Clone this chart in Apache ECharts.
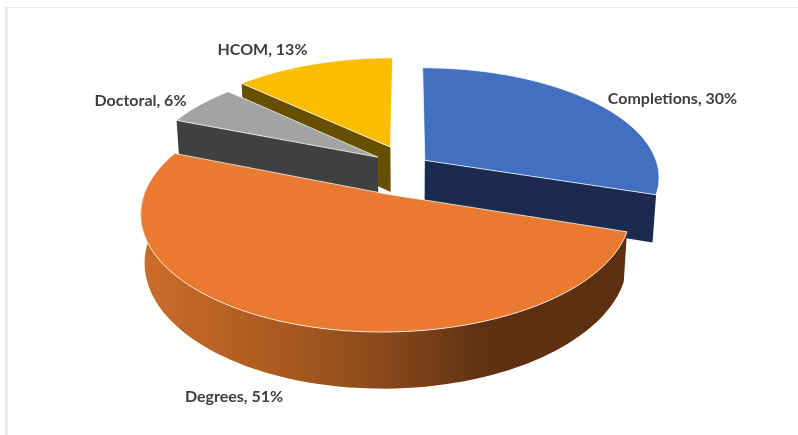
<!DOCTYPE html>
<html>
<head>
<meta charset="utf-8">
<style>html,body{margin:0;padding:0;background:#fff}#c{width:798px;height:435px}</style>
<script src="https://cdn.jsdelivr.net/npm/echarts@6/dist/echarts.min.js"></script>
</head>
<body>
<div id="c"></div>
<script>
var categories = ['Completions', 'Degrees', 'Doctoral', 'HCOM'];
var values = [30, 51, 6, 13];
var explode = [0.09, 0.265, 0.155, 0.195];
var topColors = ['#4270C0', '#E97A2F', '#A3A3A3', '#FBBD02'];
var wallColors = ['#1A2B4F', '#5C3010', '#404040', '#665000'];
var drawOrder = [3, 2, 0, 1];
var labelX = [672.5, 234, 140.5, 262.5];
var labelY = [99, 397, 101, 50];

var view = {ox: 408, oy: 166, rx: 233, ry: 108, k: 0.15, depth: 46, shrink: 0.014};
var total = values.reduce(function (a, b) { return a + b; }, 0);

function project(u, v, low) {
  var w = 1 + view.k * v;
  return [
    view.ox + view.rx * u / (w + (low ? view.shrink : 0)),
    view.oy + (-view.ry * v + (low ? view.depth : 0)) / w
  ];
}
function sliceAngles(i) {
  var before = 0;
  for (var j = 0; j < i; j++) before += values[j];
  return [before / total * Math.PI * 2, (before + values[i]) / total * Math.PI * 2];
}
function offsetOf(i) {
  var a = sliceAngles(i), mid = (a[0] + a[1]) / 2;
  return [Math.sin(mid) * explode[i], Math.cos(mid) * explode[i]];
}
function rimPoint(i, t, low) {
  var o = offsetOf(i);
  return project(Math.sin(t) + o[0], Math.cos(t) + o[1], low);
}
function arc(i, low, frontOnly) {
  var a = sliceAngles(i), pts = [], n = 90;
  for (var s = 0; s <= n; s++) {
    var t = a[0] + (a[1] - a[0]) * s / n;
    if (!frontOnly || Math.cos(t) < 0.1) pts.push(rimPoint(i, t, low));
  }
  return pts;
}
function hub(i, low) {
  var o = offsetOf(i);
  return project(o[0], o[1], low);
}

function renderItem(params, api) {
  var i = params.dataIndex, order = drawOrder.indexOf(i), base = order * 10 + 1;
  var a = sliceAngles(i);
  var children = [];
  if (categories[i] === 'Degrees') {
    children.push({
      type: 'polygon', z2: base,
      shape: {points: arc(i, false, true).concat(arc(i, true, true).reverse())},
      style: {fill: {
        type: 'linear', x: 0, y: 0, x2: 1, y2: 0,
        colorStops: [
          {offset: 0, color: '#CB6D2A'},
          {offset: 0.3, color: '#A8591F'},
          {offset: 0.5, color: '#8A481B'},
          {offset: 0.72, color: '#5C3010'},
          {offset: 1, color: '#5C3010'}
        ]
      }}
    });
  } else {
    var cutT = categories[i] === 'Completions' ? a[1] : a[0];
    children.push({
      type: 'polygon', z2: base + 1,
      shape: {points: [hub(i, false), rimPoint(i, cutT, false), rimPoint(i, cutT, true), hub(i, true)]},
      style: {fill: wallColors[i]}
    });
  }
  children.push({
    type: 'polygon', z2: base + 2,
    shape: {points: [hub(i, false)].concat(arc(i, false, false))},
    style: {fill: topColors[i], stroke: 'rgba(255,255,255,0.75)', lineWidth: 1, lineJoin: 'round'}
  });
  children.push({
    type: 'text', z2: 100,
    x: labelX[i], y: labelY[i],
    style: {
      text: categories[i] + ', ' + values[i] + '%',
      font: 'bold 16px Lato, "Open Sans", sans-serif',
      fill: '#404040', align: 'center', verticalAlign: 'middle'
    }
  });
  return {type: 'group', children: children};
}

var chart = echarts.init(document.getElementById('c'), null, {renderer: 'canvas'});
chart.setOption({
  animation: false,
  backgroundColor: '#ffffff',
  graphic: [
    {type: 'line', shape: {x1: 6.5, y1: 7.5, x2: 798, y2: 7.5}, style: {stroke: '#EBEBEB', lineWidth: 1}, silent: true},
    {type: 'line', shape: {x1: 6.5, y1: 7, x2: 6.5, y2: 435}, style: {stroke: '#E3E3E3', lineWidth: 2}, silent: true}
  ],
  series: [{
    type: 'custom',
    coordinateSystem: 'none',
    renderItem: renderItem,
    data: values.map(function (v, i) { return {name: categories[i], value: v}; })
  }]
});
</script>
</body>
</html>
